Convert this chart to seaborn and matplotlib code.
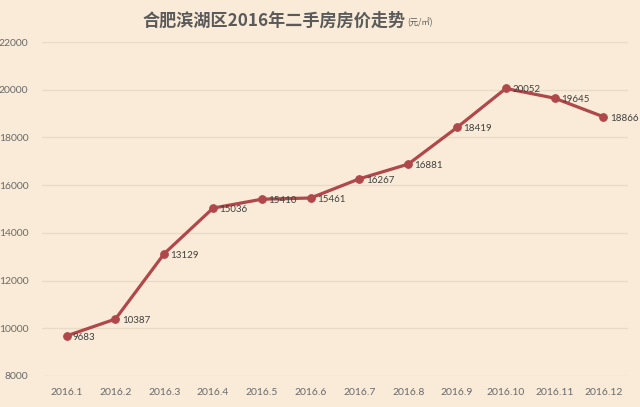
import matplotlib
matplotlib.use("Agg")
import matplotlib.pyplot as plt
import seaborn as sns
import pandas as pd

months = ["2016.1", "2016.2", "2016.3", "2016.4", "2016.5", "2016.6",
          "2016.7", "2016.8", "2016.9", "2016.10", "2016.11", "2016.12"]
prices = [9683, 10387, 13129, 15036, 15410, 15461,
          16267, 16881, 18419, 20052, 19645, 18866]
yticks = [8000, 10000, 12000, 14000, 16000, 18000, 20000, 22000]

sns.set_theme(style="white")
plt.rcParams['font.family'] = ['Lato', 'Noto Sans CJK SC', 'DejaVu Sans']

bg = "#F9EBD7"
line_color = "#B0474A"

df = pd.DataFrame({"month": months, "price": prices})

fig = plt.figure(figsize=(6.4, 4.07), dpi=100, facecolor=bg)
ax = fig.add_axes([0.066, 0.0762, 0.915, 0.8206])
ax.set_facecolor(bg)

sns.lineplot(data=df, x="month", y="price", ax=ax, color=line_color,
             linewidth=2.3, marker="o", markersize=5.5,
             markeredgecolor=line_color, sort=False)

for i, v in enumerate(prices):
    ax.annotate(str(v), (i, v), xytext=(4.5, -1), textcoords="offset points",
                ha="left", va="center", fontsize=7, color="#404040")

ax.set_xlim(-0.5, len(months) - 0.5)
ax.set_ylim(8000, 22000)
ax.set_yticks(yticks)
ax.set_yticklabels([str(t) for t in yticks])
ax.yaxis.grid(True, color="#E8DAC6", linewidth=0.9)
ax.xaxis.grid(False)
for s in ax.spines.values():
    s.set_visible(False)
ax.tick_params(axis="both", length=0, labelsize=7.5, labelcolor="#6a6a6a")
ax.tick_params(axis="x", pad=9)
ax.tick_params(axis="y", pad=10)
ax.set_xlabel("")
ax.set_ylabel("")

fig.text(0.223, 0.948, "合肥滨湖区2016年二手房房价走势", fontsize=12.3,
         fontweight="bold", color="#5a5a5a", ha="left", va="center",
         family=['Noto Sans CJK SC', 'DejaVu Sans'])
fig.text(0.637, 0.944, "(元/㎡)", fontsize=6, color="#5a5a5a",
         ha="left", va="center", family=['Noto Sans CJK SC', 'DejaVu Sans'])

fig.savefig("out.png", dpi=100, facecolor=bg)
